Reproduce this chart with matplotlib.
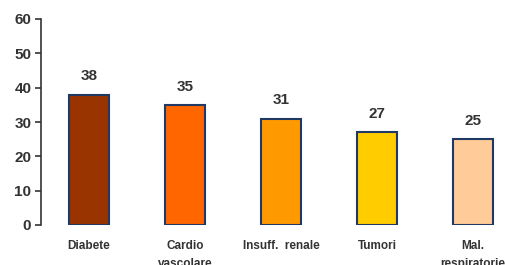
import matplotlib
matplotlib.use("Agg")
import matplotlib.pyplot as plt

categories = ["Diabete", "Cardio\nvascolare", "Insuff.  renale", "Tumori", "Mal.\nrespiratorie"]
values = [38, 35, 31, 27, 25]
colors = ["#993300", "#FF6600", "#FF9900", "#FFCC00", "#FFCC99"]
yticks = [0, 10, 20, 30, 40, 50, 60]

plt.rcParams['font.family'] = ['Liberation Sans', 'DejaVu Sans']
fig = plt.figure(figsize=(5.06, 2.65), dpi=100)
ax = fig.add_axes([41/506, 40/265, 1 - 41/506, 206/265])
x = list(range(len(categories)))
bars = ax.bar(x, values, width=0.42, color=colors, edgecolor="#1F3864", linewidth=1.5)
for xi, v in zip(x, values):
    ax.annotate(str(v), (xi, v), xytext=(0, 8), textcoords="offset points",
                ha="center", va="bottom", fontsize=11, fontweight="bold", color="#333333")
ax.set_ylim(0, 60)
ax.set_xlim(-0.5, (506 - 41) / 96 - 0.5)
ax.set_yticks(yticks)
ax.set_xticks(x)
ax.set_xticklabels(categories, fontsize=8.5, fontweight="bold", color="#333333", va="top",
                   linespacing=1.6)
for lab in ax.get_yticklabels():
    lab.set_fontweight("bold")
    lab.set_fontsize(11)
    lab.set_color("#333333")
ax.tick_params(axis="x", length=0, pad=11)
ax.tick_params(axis="y", length=4, width=1.2, color="#333333", pad=3)
for s in ["top", "right", "bottom"]:
    ax.spines[s].set_visible(False)
ax.spines["left"].set_color("#333333")
ax.spines["left"].set_linewidth(1.2)
ax.patch.set_alpha(0)
fig.savefig("out.png", dpi=100)
